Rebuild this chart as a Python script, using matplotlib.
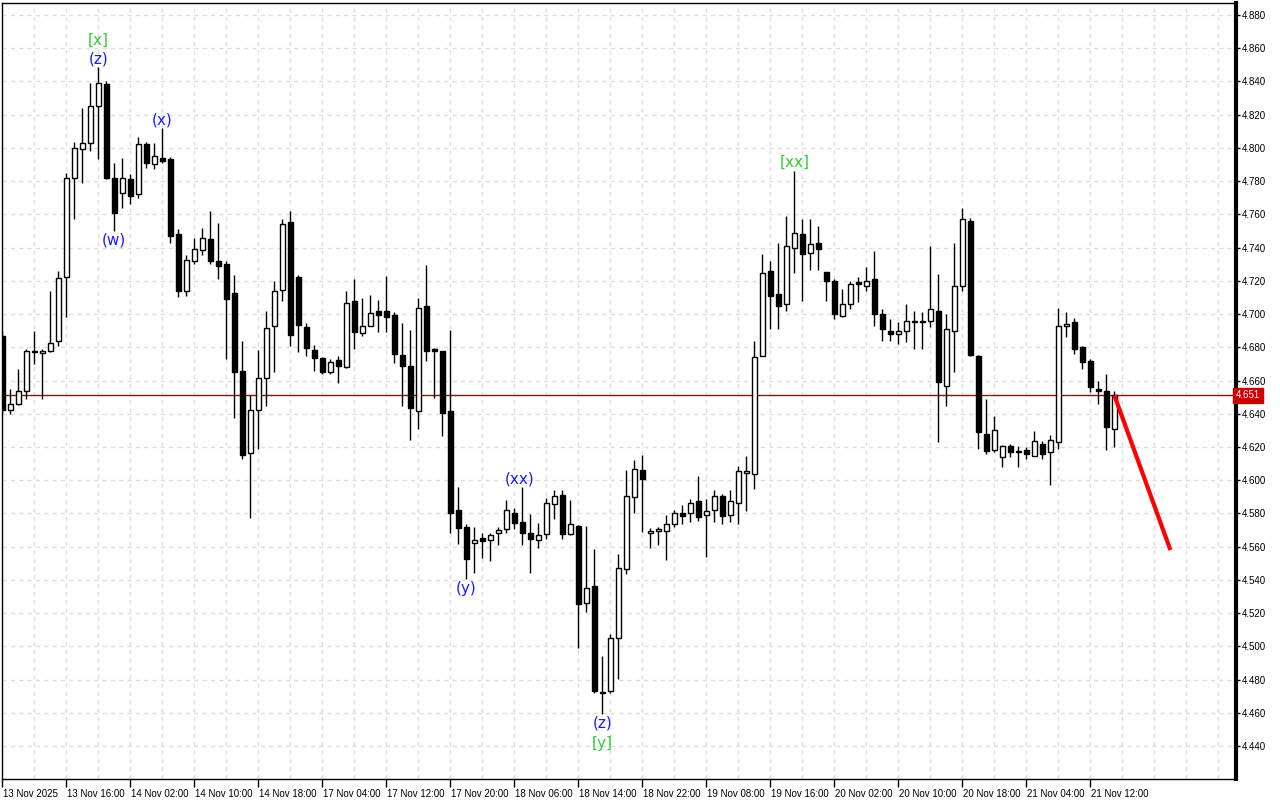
import numpy as np
import matplotlib
matplotlib.use("Agg")
import matplotlib.pyplot as plt
import matplotlib.transforms as mtransforms

# H1 candles, 13 Nov 08:00 -> 21 Nov 15:00
opens = [
    4.687, 4.642, 4.646, 4.654, 4.677, 4.6765, 4.6776, 4.6836, 4.7224, 4.782,
    4.7994, 4.803, 4.8252, 4.8384, 4.782, 4.773, 4.7814, 4.7724, 4.8024, 4.7904,
    4.7942, 4.7936, 4.7484, 4.7136, 4.7322, 4.7384, 4.7454, 4.7318, 4.7304, 4.7124,
    4.6656, 4.6164, 4.642, 4.6614, 4.6926, 4.7144, 4.7552, 4.7224, 4.6924, 4.6784,
    4.6734, 4.6654, 4.6724, 4.6684, 4.7078, 4.6884, 4.6926, 4.7018, 4.7018, 4.6994,
    4.6754, 4.6688, 4.6416, 4.7048, 4.679, 4.6778, 4.6418, 4.5818, 4.5718, 4.5624,
    4.565, 4.5638, 4.568, 4.5708, 4.5804, 4.5748, 4.5684, 4.5638, 4.5678, 4.5854,
    4.591, 4.5678, 4.5724, 4.526, 4.5366, 4.4725, 4.473, 4.505, 4.5464, 4.590,
    4.606, 4.568, 4.5694, 4.5694, 4.5734, 4.580, 4.580, 4.5874, 4.579, 4.582,
    4.5908, 4.579, 4.586, 4.6045, 4.604, 4.6748, 4.7258, 4.712, 4.706, 4.7396,
    4.748, 4.7366, 4.7426, 4.7254, 4.720, 4.6988, 4.706, 4.7194, 4.7168, 4.721,
    4.700, 4.690, 4.688, 4.6898, 4.696, 4.6952, 4.696, 4.702, 4.6568, 4.6898,
    4.7168, 4.756, 4.675, 4.628, 4.618, 4.614, 4.6204, 4.6178, 4.618, 4.6148,
    4.622, 4.617, 4.623, 4.6928, 4.6954, 4.6804, 4.672, 4.655, 4.654, 4.631,
]
highs = [
    4.690, 4.655, 4.667, 4.679, 4.690, 4.679, 4.714, 4.7258, 4.785, 4.8034,
    4.824, 4.8388, 4.8484, 4.8404, 4.791, 4.794, 4.7844, 4.8064, 4.8034, 4.8032,
    4.8118, 4.7944, 4.7514, 4.7354, 4.746, 4.7518, 4.762, 4.7548, 4.7318, 4.7234,
    4.6838, 4.6512, 4.6784, 4.7018, 4.7198, 4.7574, 4.762, 4.7234, 4.6944, 4.6812,
    4.6744, 4.673, 4.6748, 4.7136, 4.7214, 4.7094, 4.7114, 4.7084, 4.7228, 4.7014,
    4.6948, 4.6904, 4.7094, 4.7294, 4.6794, 4.678, 4.6904, 4.5958, 4.5734, 4.5718,
    4.5684, 4.5684, 4.572, 4.588, 4.5834, 4.5958, 4.5794, 4.574, 4.5894, 4.5944,
    4.594, 4.588, 4.573, 4.5724, 4.5586, 4.4944, 4.5074, 4.5554, 4.606, 4.612,
    4.615, 4.571, 4.5716, 4.579, 4.582, 4.585, 4.589, 4.6024, 4.589, 4.594,
    4.592, 4.594, 4.6084, 4.6144, 4.684, 4.736, 4.732, 4.7428, 4.759, 4.786,
    4.757, 4.757, 4.753, 4.7256, 4.7214, 4.715, 4.720, 4.7224, 4.7284, 4.738,
    4.703, 4.697, 4.695, 4.706, 4.702, 4.701, 4.741, 4.724, 4.700, 4.743,
    4.764, 4.758, 4.6752, 4.649, 4.6384, 4.6214, 4.622, 4.6204, 4.620, 4.6296,
    4.6234, 4.627, 4.7034, 4.7014, 4.6974, 4.6806, 4.673, 4.660, 4.664, 4.6534,
]
lows = [
    4.640, 4.640, 4.645, 4.649, 4.670, 4.649, 4.677, 4.681, 4.6984, 4.7572,
    4.779, 4.798, 4.7934, 4.7814, 4.750, 4.764, 4.7664, 4.770, 4.788, 4.7874,
    4.791, 4.743, 4.7104, 4.711, 4.7304, 4.7354, 4.7304, 4.7214, 4.6732, 4.6372,
    4.613, 4.5774, 4.619, 4.6444, 4.6654, 4.708, 4.681, 4.6774, 4.675, 4.666,
    4.664, 4.664, 4.6584, 4.6674, 4.679, 4.687, 4.6926, 4.6894, 4.6894, 4.6704,
    4.6444, 4.624, 4.631, 4.672, 4.6492, 4.6264, 4.5684, 4.5618, 4.5404, 4.5444,
    4.5534, 4.5514, 4.5608, 4.5684, 4.5708, 4.5608, 4.5444, 4.5594, 4.5648, 4.5764,
    4.5648, 4.5668, 4.499, 4.521, 4.472, 4.4594, 4.472, 4.4804, 4.5436, 4.580,
    4.569, 4.559, 4.561, 4.552, 4.572, 4.5734, 4.575, 4.5756, 4.554, 4.575,
    4.5734, 4.575, 4.5734, 4.5816, 4.595, 4.6748, 4.691, 4.691, 4.7016, 4.725,
    4.7076, 4.7268, 4.7268, 4.7076, 4.697, 4.698, 4.703, 4.707, 4.714, 4.693,
    4.684, 4.684, 4.682, 4.683, 4.679, 4.679, 4.692, 4.623, 4.6444, 4.665,
    4.7136, 4.6746, 4.6186, 4.6156, 4.617, 4.608, 4.614, 4.608, 4.613, 4.6148,
    4.613, 4.597, 4.619, 4.686, 4.676, 4.6668, 4.653, 4.646, 4.618, 4.620,
]
closes = [
    4.642, 4.646, 4.654, 4.678, 4.678, 4.6775, 4.6824, 4.722, 4.782, 4.800,
    4.803, 4.8252, 4.839, 4.7818, 4.761, 4.782, 4.7712, 4.8024, 4.791, 4.7954,
    4.792, 4.7472, 4.714, 4.7324, 4.7394, 4.746, 4.732, 4.729, 4.7092, 4.6654,
    4.615, 4.642, 4.6614, 4.6914, 4.7136, 4.7544, 4.6872, 4.6932, 4.6794, 4.6734,
    4.6654, 4.6714, 4.6688, 4.7064, 4.6894, 4.6928, 4.7004, 4.6992, 4.6984, 4.6762,
    4.669, 4.6432, 4.7034, 4.678, 4.678, 4.6404, 4.5804, 4.5714, 4.5528, 4.5638,
    4.5634, 4.5668, 4.5698, 4.5818, 4.5744, 4.5684, 4.5648, 4.5668, 4.5864, 4.5904,
    4.5678, 4.5738, 4.5254, 4.535, 4.473, 4.472, 4.505, 4.547, 4.5908, 4.607,
    4.6008, 4.5692, 4.5706, 4.5734, 4.580, 4.5786, 4.586, 4.578, 4.5814, 4.5908,
    4.5786, 4.5874, 4.6058, 4.6055, 4.674, 4.725, 4.7108, 4.7048, 4.7408, 4.7486,
    4.736, 4.742, 4.739, 4.7198, 4.700, 4.706, 4.718, 4.718, 4.720, 4.700,
    4.691, 4.688, 4.6896, 4.6958, 4.695, 4.6952, 4.703, 4.659, 4.691, 4.7168,
    4.757, 4.6756, 4.629, 4.6176, 4.630, 4.6208, 4.617, 4.6172, 4.616, 4.6234,
    4.616, 4.624, 4.693, 4.694, 4.679, 4.671, 4.656, 4.6536, 4.632, 4.651,
]

time_labels = [
    "13 Nov 2025", "13 Nov 16:00", "14 Nov 02:00", "14 Nov 10:00", "14 Nov 18:00",
    "17 Nov 04:00", "17 Nov 12:00", "17 Nov 20:00", "18 Nov 06:00", "18 Nov 14:00",
    "18 Nov 22:00", "19 Nov 08:00", "19 Nov 16:00", "20 Nov 02:00", "20 Nov 10:00",
    "20 Nov 18:00", "21 Nov 04:00", "21 Nov 12:00",
]
label_every = 8

# wave marks: (text, candle index, price, colour)
wave_marks = [
    ("[x]", 12, 4.865, "#33cc33"),
    ("(z)", 12, 4.8536, "#1a1aff"),
    ("(x)", 20, 4.8169, "#1a1aff"),
    ("(w)", 14, 4.7448, "#1a1aff"),
    ("(y)", 58, 4.535, "#1a1aff"),
    ("(xx)", 64.7, 4.6005, "#1a1aff"),
    ("(z)", 75, 4.4538, "#1a1aff"),
    ("[y]", 75, 4.4418, "#33cc33"),
    ("[xx]", 99, 4.7916, "#33cc33"),
]

last_price = 4.651
forecast_x = [139, 146]
forecast_y = [4.651, 4.558]

o = np.array(opens)
h = np.array(highs)
l = np.array(lows)
c = np.array(closes)
idx = np.arange(len(o))

fig = plt.figure(figsize=(12.8, 8), dpi=100)
ax = fig.add_axes([2 / 1280, 21 / 800, 1234 / 1280, 776 / 800])

ax.set_xlim(-0.04, 154.2)
ax.set_ylim(4.4202, 4.8872)

# grid
grid_kw = dict(color="#dedede", lw=1, linestyle=(0, (3, 3)), zorder=0)
for gx in range(4, 156, 4):
    ax.axvline(gx, **grid_kw)
price_ticks = np.round(np.arange(4.44, 4.8801, 0.02), 3)
for gy in price_ticks:
    ax.axhline(gy, **grid_kw)

# current price line
ax.axhline(last_price, color="#b00000", lw=1, zorder=1)

# candles
ax.vlines(idx, l, h, color="black", lw=1, zorder=2)
up = c >= o
body_lo = np.minimum(o, c)
body_h = np.maximum(np.abs(c - o), 0.0004)
ax.bar(idx[up], body_h[up], bottom=body_lo[up], width=0.6,
       color="white", edgecolor="black", lw=1, zorder=3)
ax.bar(idx[~up], body_h[~up], bottom=body_lo[~up], width=0.6,
       color="black", edgecolor="black", lw=1, zorder=3)

# forecast
ax.plot(forecast_x, forecast_y, color="#ff0000", lw=3, zorder=4,
        solid_capstyle="butt")

for txt, xi, yi, col in wave_marks:
    ax.text(xi, yi, txt, color=col, fontsize=11, ha="center", va="center", zorder=5)

# axes styling
for side in ["left", "top", "bottom"]:
    ax.spines[side].set_linewidth(1)
ax.spines["right"].set_linewidth(3)

ax.yaxis.tick_right()
ax.set_yticks(price_ticks)
ax.set_yticklabels([f"{v:.3f}" for v in price_ticks], fontsize=7,
                   family="Liberation Sans")
ax.tick_params(axis="y", direction="out", length=3, width=1, pad=1)

xt = np.arange(0, len(time_labels) * label_every, label_every)
ax.set_xticks(xt)
ax.set_xticklabels(time_labels, fontsize=7, ha="left", family="Liberation Sans")
ax.tick_params(axis="x", direction="out", length=6, width=1, pad=1)
offset = mtransforms.ScaledTranslation(1 / 100, 0, fig.dpi_scale_trans)
for lab in ax.get_xticklabels():
    lab.set_transform(lab.get_transform() + offset)

# price tag on the scale
ax.text(1.0, last_price, f"{last_price:.3f}", transform=ax.get_yaxis_transform(),
        fontsize=7, color="white", ha="left", va="center", zorder=6,
        family="Liberation Sans",
        bbox=dict(boxstyle="square,pad=0.3", fc="#cc0000", ec="#cc0000"))

fig.savefig("out.png", dpi=100)
